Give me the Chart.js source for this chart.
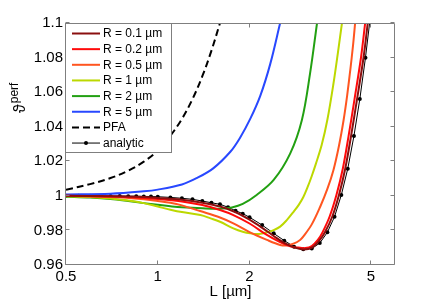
<!DOCTYPE html>
<html>
<head>
<meta charset="utf-8">
<script src="https://cdn.jsdelivr.net/npm/chart.js@4.4.1/dist/chart.umd.min.js"></script>
<style>
  html, body { margin: 0; padding: 0; background: #fff; }
</style>
</head>
<body>
<canvas id="myChart" width="436" height="305"></canvas>
<script>
// axis ticks
const xTicks = [0.5, 1, 2, 5];
const xTickLabels = ['0.5', '1', '2', '5'];
const yTicks = [0.96, 0.98, 1, 1.02, 1.04, 1.06, 1.08, 1.1];
const yTickLabels = ['0.96', '0.98', '1', '1.02', '1.04', '1.06', '1.08', '1.1'];

// series (L in µm, theta^perf)
const r01L = [0.5, 0.7, 0.9, 1.0, 1.2, 1.4, 1.6, 1.8, 2.0, 2.2, 2.4, 2.6, 2.8, 3.0, 3.2, 3.4, 3.535, 3.735, 3.93, 4.12, 4.305, 4.505, 4.73, 4.885];
const r01V = [1.0, 0.9998, 0.9993, 0.9988, 0.9977, 0.996, 0.9938, 0.9905, 0.9862, 0.9815, 0.9768, 0.9728, 0.9702, 0.969, 0.97, 0.9745, 0.9789, 0.9879, 1.0005, 1.0157, 1.0346, 1.056, 1.0799, 1.1];

const r02L = [0.5, 0.7, 0.9, 1.0, 1.2, 1.4, 1.6, 1.77, 2.0, 2.28, 2.5, 2.65, 2.8, 2.93, 3.05, 3.2, 3.35, 3.47, 3.66, 3.855, 4.045, 4.225, 4.42, 4.64, 4.79];
const r02V = [1.0, 0.9996, 0.9988, 0.9982, 0.9968, 0.9947, 0.9918, 0.9889, 0.984, 0.9774, 0.9735, 0.9716, 0.9703, 0.97, 0.9698, 0.971, 0.9745, 0.9789, 0.9879, 1.0005, 1.0157, 1.0346, 1.056, 1.0799, 1.1];

const r05L = [0.5, 0.7, 0.9, 1.0, 1.1, 1.2, 1.377, 1.6, 1.77, 2.0, 2.28, 2.52, 2.65, 2.8, 2.93, 3.0, 3.2, 3.41, 3.6, 3.77, 3.93, 4.07, 4.18, 4.28, 4.37, 4.44];
const r05V = [1.0, 0.9993, 0.998, 0.997, 0.996, 0.9945, 0.9912, 0.9875, 0.9841, 0.979, 0.9745, 0.9716, 0.9713, 0.9725, 0.9745, 0.9764, 0.9835, 0.9937, 1.004, 1.015, 1.029, 1.0439, 1.058, 1.0728, 1.087, 1.1];

const r1L = [0.5, 0.6, 0.7, 0.8, 0.9, 1.0, 1.1, 1.2, 1.38, 1.49, 1.6, 1.77, 1.9, 2.01, 2.15, 2.28, 2.4, 2.52, 2.65, 2.79, 2.9, 3.0, 3.1, 3.2, 3.3, 3.45, 3.6, 3.77, 3.9, 4.02];
const r1V = [0.9998, 0.9993, 0.9985, 0.9973, 0.9958, 0.9938, 0.992, 0.9906, 0.9889, 0.987, 0.985, 0.9812, 0.9792, 0.9783, 0.978, 0.9789, 0.9802, 0.9822, 0.986, 0.9908, 0.9948, 0.9992, 1.005, 1.0115, 1.0185, 1.0295, 1.044, 1.065, 1.083, 1.1];

const r2L = [0.5, 0.6, 0.7, 0.8, 0.9, 1.0, 1.1, 1.2, 1.4, 1.6, 1.75, 1.9, 2.11, 2.4, 2.72, 2.97, 3.16, 3.33];
const r2V = [0.9995, 0.999, 0.9982, 0.997, 0.9958, 0.9948, 0.994, 0.9934, 0.9928, 0.9926, 0.9933, 0.9953, 1.0005, 1.0092, 1.0246, 1.0439, 1.071, 1.1];

const r5L = [0.5, 0.7, 0.9, 1.0, 1.2, 1.34, 1.52, 1.73, 1.86, 2.01, 2.17, 2.34, 2.52];
const r5V = [1.0008, 1.0012, 1.0026, 1.0036, 1.0066, 1.0102, 1.0159, 1.0255, 1.0335, 1.0445, 1.058, 1.0765, 1.1];

const pfaL = [0.5, 0.6, 0.7, 0.8, 0.9, 1.0, 1.1, 1.2, 1.3, 1.4, 1.5, 1.6];
const pfaV = [1.0035, 1.0068, 1.0103, 1.0146, 1.0198, 1.0262, 1.0348, 1.0445, 1.056, 1.0692, 1.084, 1.1];

const anaL = [0.5, 0.55, 0.6, 0.65, 0.7, 0.75, 0.8, 0.85, 0.9, 0.95, 1.0, 1.1, 1.2, 1.3, 1.4, 1.5, 1.6, 1.7, 1.8, 1.9, 2.0, 2.2, 2.4, 2.6, 2.8, 3.0, 3.2, 3.4, 3.6, 3.8, 4.0, 4.2, 4.4, 4.6, 4.8, 5.0];
const anaV = [1.0, 1.0, 1.0, 1.0, 0.9999, 0.9999, 0.9998, 0.9998, 0.9997, 0.9996, 0.9995, 0.9991, 0.9986, 0.998, 0.997, 0.996, 0.9951, 0.9934, 0.9914, 0.9897, 0.9876, 0.9831, 0.9783, 0.9741, 0.9706, 0.9691, 0.9695, 0.9727, 0.9789, 0.9879, 1.0005, 1.0157, 1.0346, 1.056, 1.0799, 1.106];

const seriesNames = ['R = 0.1 µm', 'R = 0.2 µm', 'R = 0.5 µm', 'R = 1 µm', 'R = 2 µm', 'R = 5 µm', 'PFA', 'analytic'];

function pts(xs, ys) {
    return xs.map((x, i) => ({ x: x, y: ys[i] }));
}

function curve(label, xs, ys, color) {
    return {
        label: label,
        data: pts(xs, ys),
        borderColor: color,
        backgroundColor: color,
        borderWidth: 2,
        pointRadius: 0,
        tension: 0.35,
        clip: 0,
    };
}

const FONT = "'Liberation Sans', Arial, sans-serif";
Chart.defaults.font.family = FONT;
Chart.defaults.color = '#000';

// box, inward ticks on all four sides
const frame = {
    id: 'frame',
    afterDatasetsDraw(chart) {
        const { ctx, chartArea: a, scales: { x, y } } = chart;
        const L = Math.round(a.left) - 0.5, R = Math.round(a.right) - 0.5;
        const T = Math.round(a.top) + 0.5, B = Math.round(a.bottom) - 0.5;
        ctx.save();
        ctx.strokeStyle = '#7f7f7f';
        ctx.lineWidth = 1;
        ctx.beginPath();
        ctx.rect(L, T, R - L, B - T);
        xTicks.forEach(v => {
            const px = Math.round(x.getPixelForValue(v)) - 0.5;
            ctx.moveTo(px, B); ctx.lineTo(px, B - 4);
            ctx.moveTo(px, T); ctx.lineTo(px, T + 4);
        });
        yTicks.forEach(v => {
            const py = Math.round(y.getPixelForValue(v)) - 0.5;
            ctx.moveTo(L, py); ctx.lineTo(L + 4, py);
            ctx.moveTo(R, py); ctx.lineTo(R - 4, py);
        });
        ctx.stroke();
        ctx.restore();
    }
};

// legend box inside the plot, top left
const boxLegend = {
    id: 'boxLegend',
    afterDatasetsDraw(chart) {
        const { ctx, chartArea: a } = chart;
        const left = Math.round(a.left) - 0.5, top = Math.round(a.top) + 0.5;
        const w = 106, h = 129;
        ctx.save();
        ctx.fillStyle = '#fff';
        ctx.fillRect(left, top, w, h);
        ctx.strokeStyle = '#7f7f7f';
        ctx.lineWidth = 1;
        ctx.strokeRect(left, top, w, h);
        ctx.font = '12px ' + FONT;
        ctx.textBaseline = 'middle';
        chart.data.datasets.forEach((ds, i) => {
            const yy = a.top + 10.5 + i * 15.65;
            ctx.strokeStyle = ds.borderColor;
            ctx.lineWidth = ds.borderWidth;
            ctx.setLineDash(ds.borderDash || []);
            ctx.beginPath();
            ctx.moveTo(a.left + 6, yy);
            ctx.lineTo(a.left + 34, yy);
            ctx.stroke();
            ctx.setLineDash([]);
            if (ds.pointRadius > 0) {
                ctx.fillStyle = ds.pointBackgroundColor;
                ctx.beginPath();
                ctx.arc(a.left + 20, yy, ds.pointRadius, 0, Math.PI * 2);
                ctx.fill();
            }
            ctx.fillStyle = '#000';
            ctx.fillText(ds.label, a.left + 37, yy + 0.5);
        });
        ctx.restore();
    }
};

// y title: theta with superscript "perf", rotated
const yTitle = {
    id: 'yTitle',
    afterDraw(chart) {
        const { ctx } = chart;
        ctx.save();
        ctx.translate(25, 113);
        ctx.rotate(-Math.PI / 2);
        ctx.fillStyle = '#000';
        ctx.textBaseline = 'alphabetic';
        ctx.font = '16px ' + FONT;
        ctx.fillText('ϑ', 0, 0);
        const w = ctx.measureText('ϑ').width;
        ctx.font = '12px ' + FONT;
        ctx.fillText('perf', w + 1, -7);
        ctx.restore();
    }
};

new Chart(document.getElementById('myChart'), {
    type: 'line',
    data: {
        datasets: [
            curve(seriesNames[0], r01L, r01V, '#8a0f0f'),
            curve(seriesNames[1], r02L, r02V, '#ff0a0a'),
            curve(seriesNames[2], r05L, r05V, '#ff5520'),
            curve(seriesNames[3], r1L, r1V, '#bcd800'),
            curve(seriesNames[4], r2L, r2V, '#22a012'),
            curve(seriesNames[5], r5L, r5V, '#2848ff'),
            Object.assign(curve(seriesNames[6], pfaL, pfaV, '#000'), { borderDash: [7, 4] }),
            {
                label: seriesNames[7],
                data: pts(anaL, anaV),
                borderColor: '#000',
                borderWidth: 1,
                pointRadius: 2,
                pointBackgroundColor: '#000',
                pointBorderWidth: 0,
                tension: 0,
                clip: 0,
            },
        ]
    },
    options: {
        responsive: false,
        animation: false,
        layout: { padding: { left: 0, right: 41, top: 23, bottom: 0 } },
        plugins: {
            legend: { display: false },
            tooltip: { enabled: false },
        },
        scales: {
            x: {
                type: 'logarithmic',
                min: 0.5,
                max: 6,
                grid: { display: false, drawTicks: false },
                border: { display: false },
                afterBuildTicks: s => { s.ticks = xTicks.map(v => ({ value: v })); },
                afterFit: s => { s.height = 40; },
                ticks: {
                    autoSkip: false,
                    maxRotation: 0,
                    padding: 3,
                    font: { size: 15 },
                    callback: (v) => xTickLabels[xTicks.indexOf(v)],
                },
                title: {
                    display: true,
                    text: 'L [µm]',
                    font: { size: 15 },
                    padding: { top: 0, bottom: 4 },
                },
            },
            y: {
                min: 0.96,
                max: 1.1,
                grid: { display: false, drawTicks: false },
                border: { display: false },
                afterBuildTicks: s => { s.ticks = yTicks.map(v => ({ value: v })); },
                afterFit: s => { s.width = 66; },
                ticks: {
                    autoSkip: false,
                    padding: 3,
                    font: { size: 15 },
                    callback: (v) => yTickLabels[yTicks.indexOf(v)],
                },
            },
        },
    },
    plugins: [frame, boxLegend, yTitle],
});
</script>
</body>
</html>
